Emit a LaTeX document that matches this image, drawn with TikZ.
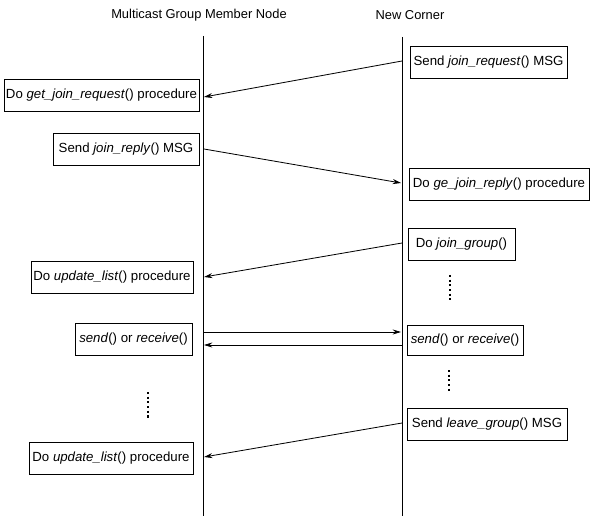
\documentclass[tikz,border=0pt]{standalone}
\usepackage{fontspec}
\setmainfont{Liberation Sans}
\usetikzlibrary{arrows.meta}

\begin{document}
\begin{tikzpicture}[
  x=0.03cm, y=-0.03cm,
  font=\fontsize{11.3}{13}\selectfont,
  msgbox/.style={
    rectangle, draw=black, line width=0.7pt,
    minimum height=0.96cm, inner sep=1pt, align=center
  },
  lifeline/.style={black, line width=0.8pt},
  msg/.style={-{Stealth[length=2.5mm, width=1.5mm]}, black, line width=0.7pt},
  dotsline/.style={black, line width=1.8pt, dash pattern=on 1.8pt off 2.2pt},
  header/.style={font=\fontsize{11}{13}\selectfont},
]
\useasboundingbox (0,0) rectangle (591,516);

% lifelines
\node[header] (memberHead) at (199,15) {Multicast Group Member Node};
\node[header] (cornerHead) at (410,15) {New Corner};
\coordinate (lTop) at (203,36);
\coordinate (lBot) at (203,516);
\coordinate (rTop) at (402,37);
\coordinate (rBot) at (402,516);
\draw[lifeline] (lTop) -- (lBot);
\draw[lifeline] (rTop) -- (rBot);

% join request / reply
\node[msgbox, minimum width=4.71cm] (reqSend)  at (488.5,62.5) {Send \textit{join\_request}() MSG};
\node[msgbox, minimum width=5.85cm] (reqGet)   at (101.5,95)   {Do \textit{get\_join\_request}() procedure};
\node[msgbox, minimum width=4.38cm] (repSend)  at (126,149.5)  {Send \textit{join\_reply}() MSG};
\node[msgbox, minimum width=5.40cm] (repGet)   at (499,184)    {Do \textit{ge\_join\_reply}() procedure};
\coordinate (m1a) at (402,61);  \coordinate (m1b) at (204,97);
\coordinate (m2a) at (204,149); \coordinate (m2b) at (401,183);
\draw[msg] (m1a) -- (m1b);
\draw[msg] (m2a) -- (m2b);

% join group
\node[msgbox, minimum width=3.21cm] (joinGrp)  at (461.5,244)  {Do \textit{join\_group}()};
\node[msgbox, minimum width=4.86cm] (updListA) at (112,277)    {Do \textit{update\_list}() procedure};
\coordinate (m3a) at (402,243); \coordinate (m3b) at (204,277);
\draw[msg] (m3a) -- (m3b);
\draw[dotsline] (450,275) -- (450,300);

% send / receive
\node[msgbox, minimum width=3.51cm] (srLeft)   at (133.5,339)  {\textit{send}() or \textit{receive}()};
\node[msgbox, minimum width=3.48cm, minimum height=0.9cm] (srRight) at (465,340) {\textit{send}() or \textit{receive}()};
\coordinate (m4a) at (203,332); \coordinate (m4b) at (401,332);
\coordinate (m5a) at (402,345); \coordinate (m5b) at (204,345);
\draw[msg] (m4a) -- (m4b);
\draw[msg] (m5a) -- (m5b);
\draw[dotsline] (449,370) -- (449,393);
\draw[dotsline] (148,392) -- (148,418);

% leave group
\node[msgbox, minimum width=4.80cm] (leaveSend) at (487,424)   {Send \textit{leave\_group}() MSG};
\node[msgbox, minimum width=4.92cm] (updListB)  at (111,458.5) {Do \textit{update\_list}() procedure};
\coordinate (m6a) at (402,423); \coordinate (m6b) at (204,457);
\draw[msg] (m6a) -- (m6b);

\end{tikzpicture}
\end{document}
